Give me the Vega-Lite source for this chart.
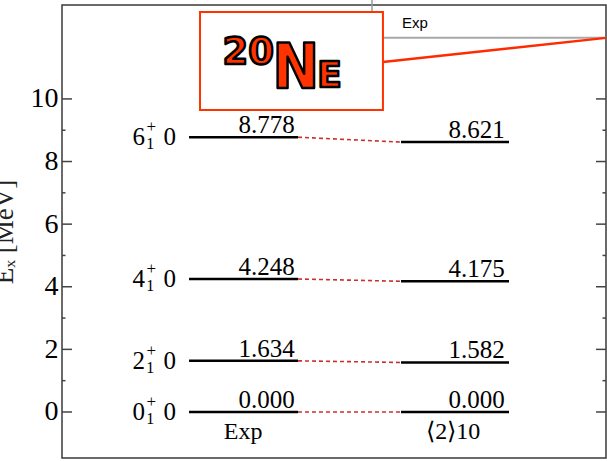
{
  "$schema": "https://vega.github.io/schema/vega-lite/v6.json",
  "width": 544,
  "height": 453,
  "autosize": {"type": "none"},
  "padding": {"left": 62, "top": 5, "right": 1, "bottom": 3},
  "background": "white",
  "config": {
    "view": {"stroke": "#3a3a3a", "strokeWidth": 1.5},
    "text": {"font": "Liberation Serif", "color": "black"}
  },
  "datasets": {
    "levels": [
      {"state": "0", "exp": 0.000, "th": 0.000},
      {"state": "2", "exp": 1.634, "th": 1.582},
      {"state": "4", "exp": 4.248, "th": 4.175},
      {"state": "6", "exp": 8.778, "th": 8.621}
    ],
    "majorTicks": [{"v": 0}, {"v": 2}, {"v": 4}, {"v": 6}, {"v": 8}, {"v": 10}],
    "minorTicks": [{"v": 1}, {"v": 3}, {"v": 5}, {"v": 7}, {"v": 9}],
    "single": [{"id": 1}]
  },
  "data": {"name": "levels"},
  "resolve": {"scale": {"x": "shared", "y": "shared"}},
  "layer": [
    {
      "mark": {"type": "rule", "color": "black", "strokeWidth": 2.5},
      "encoding": {
        "x": {"datum": 2.335, "type": "quantitative", "scale": {"domain": [0, 10], "nice": false, "zero": false}, "axis": null},
        "x2": {"datum": 4.338},
        "y": {"field": "exp", "type": "quantitative",
              "scale": {"domain": [-1.47, 13.0], "nice": false, "zero": false},
              "axis": {"values": [0, 2, 4, 6, 8, 10], "ticks": false, "domain": false, "grid": false,
                       "labelFont": "Liberation Serif", "labelFontSize": 28, "labelColor": "black", "labelPadding": 4,
                       "title": "Eₓ [MeV]", "titleFont": "Liberation Serif", "titleFontSize": 27,
                       "titleFontWeight": "normal", "titleColor": "#222", "titlePadding": 12}}
      }
    },
    {
      "mark": {"type": "rule", "color": "black", "strokeWidth": 2.5},
      "encoding": {
        "x": {"datum": 6.232, "type": "quantitative"},
        "x2": {"datum": 8.217},
        "y": {"field": "th", "type": "quantitative"}
      }
    },
    {
      "mark": {"type": "rule", "color": "#c8302f", "strokeWidth": 1.6, "strokeDash": [4, 3]},
      "encoding": {
        "x": {"datum": 4.338, "type": "quantitative"},
        "x2": {"datum": 6.232},
        "y": {"field": "exp", "type": "quantitative"},
        "y2": {"field": "th"}
      }
    },
    {
      "mark": {"type": "text", "align": "right", "baseline": "alphabetic", "dy": -4, "fontSize": 25},
      "encoding": {
        "x": {"datum": 4.28, "type": "quantitative"},
        "y": {"field": "exp", "type": "quantitative"},
        "text": {"field": "exp", "type": "quantitative", "format": ".3f"}
      }
    },
    {
      "mark": {"type": "text", "align": "right", "baseline": "alphabetic", "dy": -4, "fontSize": 25},
      "encoding": {
        "x": {"datum": 8.14, "type": "quantitative"},
        "y": {"field": "th", "type": "quantitative"},
        "text": {"field": "th", "type": "quantitative", "format": ".3f"}
      }
    },
    {
      "mark": {"type": "text", "align": "right", "baseline": "middle", "fontSize": 25},
      "encoding": {
        "x": {"datum": 1.526, "type": "quantitative"},
        "y": {"field": "exp", "type": "quantitative"},
        "text": {"field": "state"}
      }
    },
    {
      "mark": {"type": "text", "align": "center", "baseline": "middle", "fontSize": 17, "dy": -10},
      "encoding": {
        "x": {"datum": 1.64, "type": "quantitative"},
        "y": {"field": "exp", "type": "quantitative"},
        "text": {"datum": "+"}
      }
    },
    {
      "mark": {"type": "text", "align": "center", "baseline": "middle", "fontSize": 16, "dy": 7},
      "encoding": {
        "x": {"datum": 1.62, "type": "quantitative"},
        "y": {"field": "exp", "type": "quantitative"},
        "text": {"datum": "1"}
      }
    },
    {
      "mark": {"type": "text", "align": "right", "baseline": "middle", "fontSize": 25},
      "encoding": {
        "x": {"datum": 2.096, "type": "quantitative"},
        "y": {"field": "exp", "type": "quantitative"},
        "text": {"datum": "0"}
      }
    },
    {
      "data": {"name": "majorTicks"},
      "mark": {"type": "tick", "orient": "horizontal", "size": 20, "thickness": 1.5, "color": "#444", "opacity": 1, "clip": true},
      "encoding": {"x": {"datum": 0, "type": "quantitative"}, "y": {"field": "v", "type": "quantitative"}}
    },
    {
      "data": {"name": "minorTicks"},
      "mark": {"type": "tick", "orient": "horizontal", "size": 7, "thickness": 1.5, "color": "#444", "opacity": 1, "clip": true},
      "encoding": {"x": {"datum": 0, "type": "quantitative"}, "y": {"field": "v", "type": "quantitative"}}
    },
    {
      "data": {"name": "majorTicks"},
      "mark": {"type": "tick", "orient": "horizontal", "size": 20, "thickness": 1.5, "color": "#444", "opacity": 1, "clip": true},
      "encoding": {"x": {"datum": 10, "type": "quantitative"}, "y": {"field": "v", "type": "quantitative"}}
    },
    {
      "data": {"name": "minorTicks"},
      "mark": {"type": "tick", "orient": "horizontal", "size": 7, "thickness": 1.5, "color": "#444", "opacity": 1, "clip": true},
      "encoding": {"x": {"datum": 10, "type": "quantitative"}, "y": {"field": "v", "type": "quantitative"}}
    },
    {
      "data": {"name": "single"},
      "layer": [
        {
          "mark": {"type": "text", "align": "center", "baseline": "alphabetic", "fontSize": 24},
          "encoding": {
            "x": {"datum": 3.33, "type": "quantitative"},
            "y": {"datum": -0.86, "type": "quantitative"},
            "text": {"datum": "Exp"}
          }
        },
        {
          "mark": {"type": "text", "align": "center", "baseline": "alphabetic", "fontSize": 24},
          "encoding": {
            "x": {"datum": 7.19, "type": "quantitative"},
            "y": {"datum": -0.86, "type": "quantitative"},
            "text": {"datum": "⟨2⟩10"}
          }
        },
        {
          "mark": {"type": "rule", "color": "#9a9a9a", "strokeWidth": 1.5},
          "encoding": {
            "x": {"datum": 5.699, "type": "quantitative"},
            "y": {"datum": 13.16, "type": "quantitative"},
            "y2": {"datum": 12.78}
          }
        },
        {
          "mark": {"type": "rule", "color": "#a8a8a8", "strokeWidth": 2},
          "encoding": {
            "x": {"datum": 5.90, "type": "quantitative"},
            "x2": {"datum": 10},
            "y": {"datum": 11.95, "type": "quantitative"}
          }
        },
        {
          "mark": {"type": "text", "align": "left", "baseline": "alphabetic", "font": "Liberation Sans", "fontSize": 15},
          "encoding": {
            "x": {"datum": 6.25, "type": "quantitative"},
            "y": {"datum": 12.27, "type": "quantitative"},
            "text": {"datum": "Exp"}
          }
        },
        {
          "mark": {"type": "rule", "color": "#ff2a00", "strokeWidth": 2.5},
          "encoding": {
            "x": {"datum": 5.90, "type": "quantitative"},
            "x2": {"datum": 10},
            "y": {"datum": 11.18, "type": "quantitative"},
            "y2": {"datum": 11.95}
          }
        },
        {
          "mark": {"type": "rect", "fill": "white", "stroke": "#ff3300", "strokeWidth": 2},
          "encoding": {
            "x": {"datum": 2.537, "type": "quantitative"},
            "x2": {"datum": 5.90},
            "y": {"datum": 12.78, "type": "quantitative"},
            "y2": {"datum": 9.65}
          }
        },
        {
          "mark": {"type": "text", "align": "left", "baseline": "alphabetic", "font": "DejaVu Sans", "fontWeight": "bold", "fontSize": 37, "fill": "#ff3300", "stroke": "black", "strokeWidth": 2.5, "strokeJoin": "round"},
          "encoding": {
            "x": {"datum": 2.95, "type": "quantitative"},
            "y": {"datum": 11.1, "type": "quantitative"},
            "text": {"datum": "20"}
          }
        },
        {
          "mark": {"type": "text", "align": "left", "baseline": "alphabetic", "font": "DejaVu Sans Condensed, DejaVu Sans", "fontWeight": "bold", "fontSize": 62, "fill": "#ff3300", "stroke": "black", "strokeWidth": 2.5, "strokeJoin": "round"},
          "encoding": {
            "x": {"datum": 3.87, "type": "quantitative"},
            "y": {"datum": 10.35, "type": "quantitative"},
            "text": {"datum": "N"}
          }
        },
        {
          "mark": {"type": "text", "align": "left", "baseline": "alphabetic", "font": "DejaVu Sans", "fontWeight": "bold", "fontSize": 36, "fill": "#ff3300", "stroke": "black", "strokeWidth": 2.5, "strokeJoin": "round"},
          "encoding": {
            "x": {"datum": 4.69, "type": "quantitative"},
            "y": {"datum": 10.38, "type": "quantitative"},
            "text": {"datum": "E"}
          }
        }
      ]
    }
  ]
}
